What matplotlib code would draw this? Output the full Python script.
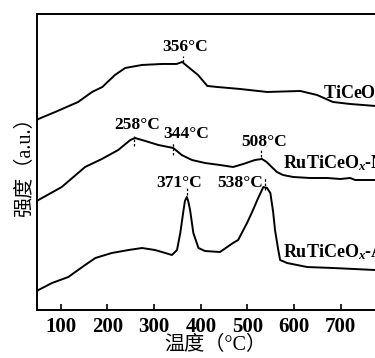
import numpy as np
import matplotlib
matplotlib.use("Agg")
import matplotlib.pyplot as plt

plt.rcParams['font.family'] = ['Liberation Serif', 'Noto Sans CJK SC']
plt.rcParams['font.weight'] = 'bold'
plt.rcParams['mathtext.fontset'] = 'custom'
plt.rcParams['mathtext.it'] = 'Liberation Serif:italic:bold'
plt.rcParams['mathtext.rm'] = 'Liberation Serif:bold'

# TPD profiles (temperature in degC, intensity a.u.)
t_ti = [49, 52, 88, 137, 167, 189, 216, 238, 274, 317, 348, 360, 373, 394, 414, 435, 484, 542, 613, 649, 683, 720, 774, 814]
y_ti = [190, 191, 198, 208, 218, 223, 235, 242, 245, 246, 246, 248, 243, 235, 224, 223, 221, 218, 219, 215, 208, 206, 204, 204]

t_n = [49, 52, 102, 152, 188, 223, 249, 259, 281, 309, 341, 359, 381, 409, 441, 469, 491, 516, 531, 541,
       563, 576, 598, 634, 671, 699, 720, 731, 774, 814]
y_n = [109, 110, 123, 143, 151, 160, 170, 172, 169, 165, 162, 155, 150, 147, 145, 143, 146, 150, 151, 148,
       138, 135, 133, 132, 132, 131, 132, 130, 130, 130]

t_a = [49, 52, 81, 116, 152, 174, 209, 245, 274, 302, 324, 338, 349, 356, 363, 366, 370, 373, 377, 384,
       395, 409, 441, 469, 480, 499, 510, 521, 534, 542, 549, 555, 559, 566, 570, 585, 628, 684, 774, 814]
y_a = [19, 20, 27, 33, 45, 52, 57, 60, 62, 60, 57, 55, 60, 77, 100, 109, 113, 109, 100, 77,
       62, 59, 58, 67, 70, 87, 98, 110, 123, 122, 117, 98, 80, 60, 50, 47, 43, 42, 40, 40]

sample_names = [r'TiCeO$_x$', r'RuTiCeO$_x$-NH$_3$', r'RuTiCeO$_x$-Air']
peak_labels = ['356°C', '258°C', '344°C', '508°C', '371°C', '538°C']
peak_temps = [362, 256, 341, 528, 370, 538]

fig = plt.figure(figsize=(3.75, 3.58), dpi=100)
ax = fig.add_axes([0.0987, 0.134, 0.952, 0.827])

for t, y in [(t_ti, y_ti), (t_n, y_n), (t_a, y_a)]:
    ax.plot(t, y, color='black', lw=1.4)

# sample names (run off the right edge like the original)
ax.text(662, 217, sample_names[0], fontsize=13, va='center', ha='left', clip_on=False)
ax.text(576, 147, sample_names[1], fontsize=13, va='center', ha='left', clip_on=False)
ax.text(576, 58, sample_names[2], fontsize=13, va='center', ha='left', clip_on=False)

# peak labels and markers
label_pos = [(366, 263), (264, 185), (369, 176), (536, 168), (354, 127), (484, 127)]
mark_span = [(248, 254), (164, 174), (155, 168), (153, 160), (115, 122), (120, 132)]
for lab, (lx, ly), tp, (m0, m1) in zip(peak_labels, label_pos, peak_temps, mark_span):
    ax.text(lx, ly, lab, fontsize=12.5, ha='center', va='center')
    ax.vlines(tp, m0, m1, colors='black', lw=0.9, linestyles=(0, (2, 1.5)))

ax.set_xlim(49, 814)
ax.set_ylim(0, 296)
ax.set_xticks([100, 200, 300, 400, 500, 600, 700])
ax.set_yticks([])
ax.tick_params(axis='x', direction='in', length=4, width=1.2, labelsize=15, pad=5)
for lab in ax.get_xticklabels():
    lab.set_fontweight('bold')
for s in ax.spines.values():
    s.set_linewidth(1.4)

ax.set_xlabel('温度（°C）', fontsize=14.5, fontweight='normal', labelpad=-1)
ax.set_ylabel('强度（a.u.）', fontsize=14.5, labelpad=1)

fig.savefig('out.png', dpi=100)
